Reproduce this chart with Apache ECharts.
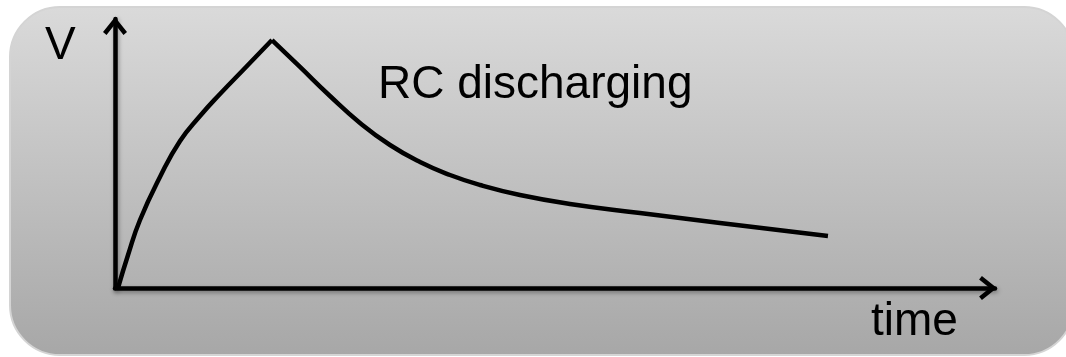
<!DOCTYPE html>
<html>
<head>
<meta charset="utf-8">
<script src="https://cdn.jsdelivr.net/npm/echarts@6/dist/echarts.min.js"></script>
<style>
html,body{margin:0;padding:0;background:#ffffff;}
#chart{width:1066px;height:357px;}
</style>
</head>
<body>
<div id="chart"></div>
<script>
// Rise (charging) segment: time, voltage (axis units 0-100)
const riseTime = [0.34, 1.48, 2.84, 5.11, 7.39, 9.66, 11.93, 14.89, 17.84];
const riseV    = [0, 12.27, 25.28, 41.26, 54.65, 63.94, 72.12, 82.16, 92.19];
// Decay (RC discharging) segment
const decayTime = [17.84, 21.02, 24.43, 27.84, 31.25, 34.66, 38.07, 41.48, 46.02, 51.70, 59.66, 68.75, 81.02];
const decayV    = [92.19, 82.16, 71.38, 61.34, 53.16, 46.84, 42.01, 38.29, 34.57, 31.23, 27.88, 24.16, 19.33];
// Text labels
const yAxisLabel = 'V';
const xAxisLabel = 'time';
const curveLabel = 'RC discharging';

const pair = (xs, ys) => xs.map((x, i) => [x, ys[i]]);

const chevron = 'path://M12,0 L24,15 L20.5,17.8 L12,7.2 L3.5,17.8 L0,15 Z';
const FONT = 'Liberation Sans, Arial, Helvetica, sans-serif';

const axisLineStyle = {
  color: '#000',
  width: 4.5,
  shadowBlur: 4,
  shadowColor: 'rgba(0,0,0,0.35)',
  shadowOffsetX: 1,
  shadowOffsetY: 2
};

const chart = echarts.init(document.getElementById('chart'), null, {renderer: 'canvas'});
chart.setOption({
  animation: false,
  backgroundColor: '#ffffff',
  grid: {left: 115, right: 71, top: 19, bottom: 69, containLabel: false},
  xAxis: {
    type: 'value', min: 0, max: 100,
    axisLine: {show: true, onZero: false, symbol: ['none', chevron], symbolSize: [24, 18], symbolOffset: [0, -7], lineStyle: axisLineStyle},
    axisTick: {show: false}, axisLabel: {show: false}, splitLine: {show: false}
  },
  yAxis: {
    type: 'value', min: 0, max: 100,
    axisLine: {show: true, onZero: false, symbol: ['none', chevron], symbolSize: [24, 18], symbolOffset: [0, -7], lineStyle: axisLineStyle},
    axisTick: {show: false}, axisLabel: {show: false}, splitLine: {show: false}
  },
  graphic: [
    {
      type: 'rect', z: -10, silent: true,
      shape: {x: 10, y: 7, width: 1064, height: 348, r: 50},
      style: {
        fill: new echarts.graphic.LinearGradient(0, 0, 0, 1, [
          {offset: 0, color: '#dadada'},
          {offset: 1, color: '#a7a7a7'}
        ]),
        stroke: '#d4d4d4', lineWidth: 2
      }
    },
    {type: 'text', z: 10, style: {text: yAxisLabel, x: 45, y: 46, font: '46px ' + FONT, fill: '#000', textVerticalAlign: 'middle'}},
    {type: 'text', z: 10, style: {text: curveLabel, x: 378, y: 85, font: '46px ' + FONT, fill: '#000', textVerticalAlign: 'middle'}},
    {type: 'text', z: 10, style: {text: xAxisLabel, x: 871, y: 322, font: '46px ' + FONT, fill: '#000', textVerticalAlign: 'middle'}}
  ],
  series: [
    {
      type: 'line', data: pair(riseTime, riseV), smooth: 0.5, symbol: 'none',
      lineStyle: {color: '#000', width: 4.5}, z: 5
    },
    {
      type: 'line', data: pair(decayTime, decayV), smooth: 0.5, symbol: 'none',
      lineStyle: {color: '#000', width: 4.5}, z: 5
    }
  ]
});
</script>
</body>
</html>
